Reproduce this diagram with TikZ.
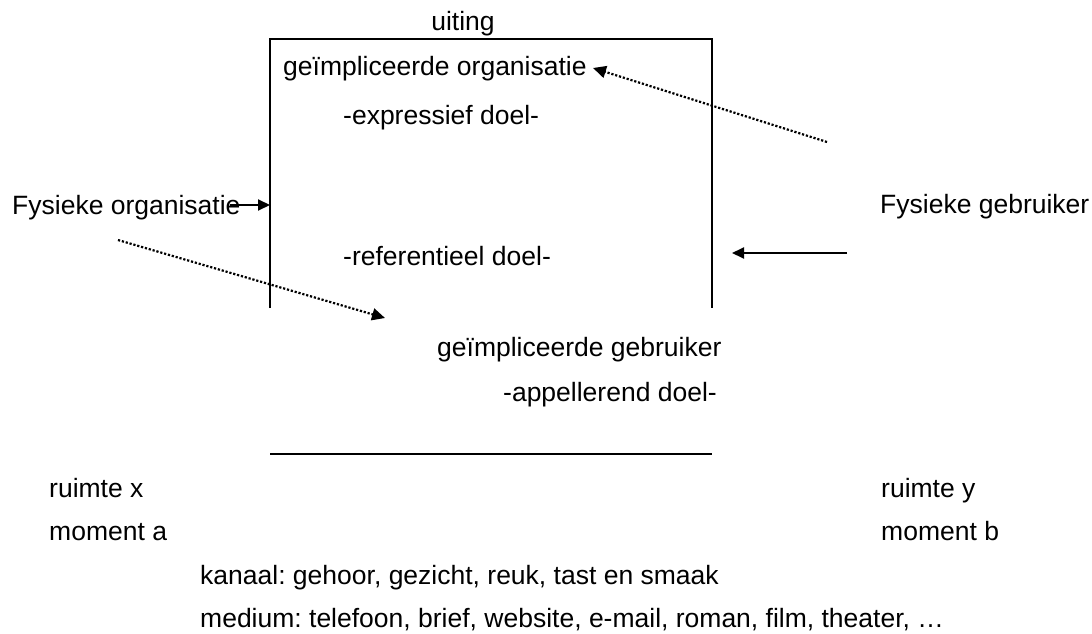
\documentclass[tikz,border=0pt]{standalone}
\usepackage{fontspec}
\setmainfont{Liberation Sans}
\usetikzlibrary{arrows.meta}

\begin{document}
\frenchspacing
\begin{tikzpicture}[
  x=1pt, y=-1pt,
  label/.style={anchor=base west, inner sep=0pt, font=\fontsize{26.5}{30}\selectfont},
  frame/.style={line width=2pt, draw=black},
  arrow/.style={-{Triangle[length=12pt,width=11pt]}, line width=2pt},
  dotarrow/.style={-{Triangle[length=13pt,width=12pt]}, line width=2.2pt,
    dash pattern=on 2.2pt off 1.8pt}
]
\useasboundingbox (0,0) rectangle (1092,634);

% de uiting
\coordinate (tl) at (270,39);
\coordinate (tr) at (712,39);
\coordinate (bl) at (270,308);
\coordinate (br) at (712,308);
\coordinate (ul) at (270,454);
\coordinate (ur) at (712,454);
\draw[frame] (bl) -- (tl) -- (tr) -- (br);
\draw[frame] (ul) -- (ur);

\node[anchor=base, inner sep=0pt, font=\fontsize{26.5}{30}\selectfont] (uit) at (463,31) {uiting};
\node[label] (gorg) at (283,76) {geïmpliceerde organisatie};
\node[label] (expr) at (343,124) {-expressief doel-};
\node[label] (refe) at (343,265) {-referentieel doel-};
\node[label] (ggeb) at (437,356) {geïmpliceerde gebruiker};
\node[label] (appe) at (503,401) {-appellerend doel-};

% de fysieke partijen
\node[label] (forg) at (12,214) {Fysieke organisatie};
\node[label] (fgeb) at (880,213) {Fysieke gebruiker};

% ruimte en tijd
\node[label] (rx) at (49,497) {ruimte x};
\node[label] (ma) at (49,540) {moment a};
\node[label] (ry) at (881,497) {ruimte y};
\node[label] (mb) at (881,540) {moment b};
\node[label] (kan) at (200,584) {kanaal: gehoor, gezicht, reuk, tast en smaak};
\node[label] (med) at (200,627) {medium: telefoon, brief, website, e-mail, roman, film, theater, …};

% pijlen
\coordinate (fo1) at (230,205);
\coordinate (fg1) at (847,253);
\coordinate (fg2) at (732,253);
\coordinate (d1) at (827,142);
\coordinate (d2) at (593,68);
\coordinate (d3) at (118,240);
\coordinate (d4) at (385,318);
\draw[arrow] (fo1) -- (fo1 -| tl);
\draw[arrow] (fg1) -- (fg2);
\draw[dotarrow] (d1) -- (d2);
\draw[dotarrow] (d3) -- (d4);
\end{tikzpicture}
\end{document}
